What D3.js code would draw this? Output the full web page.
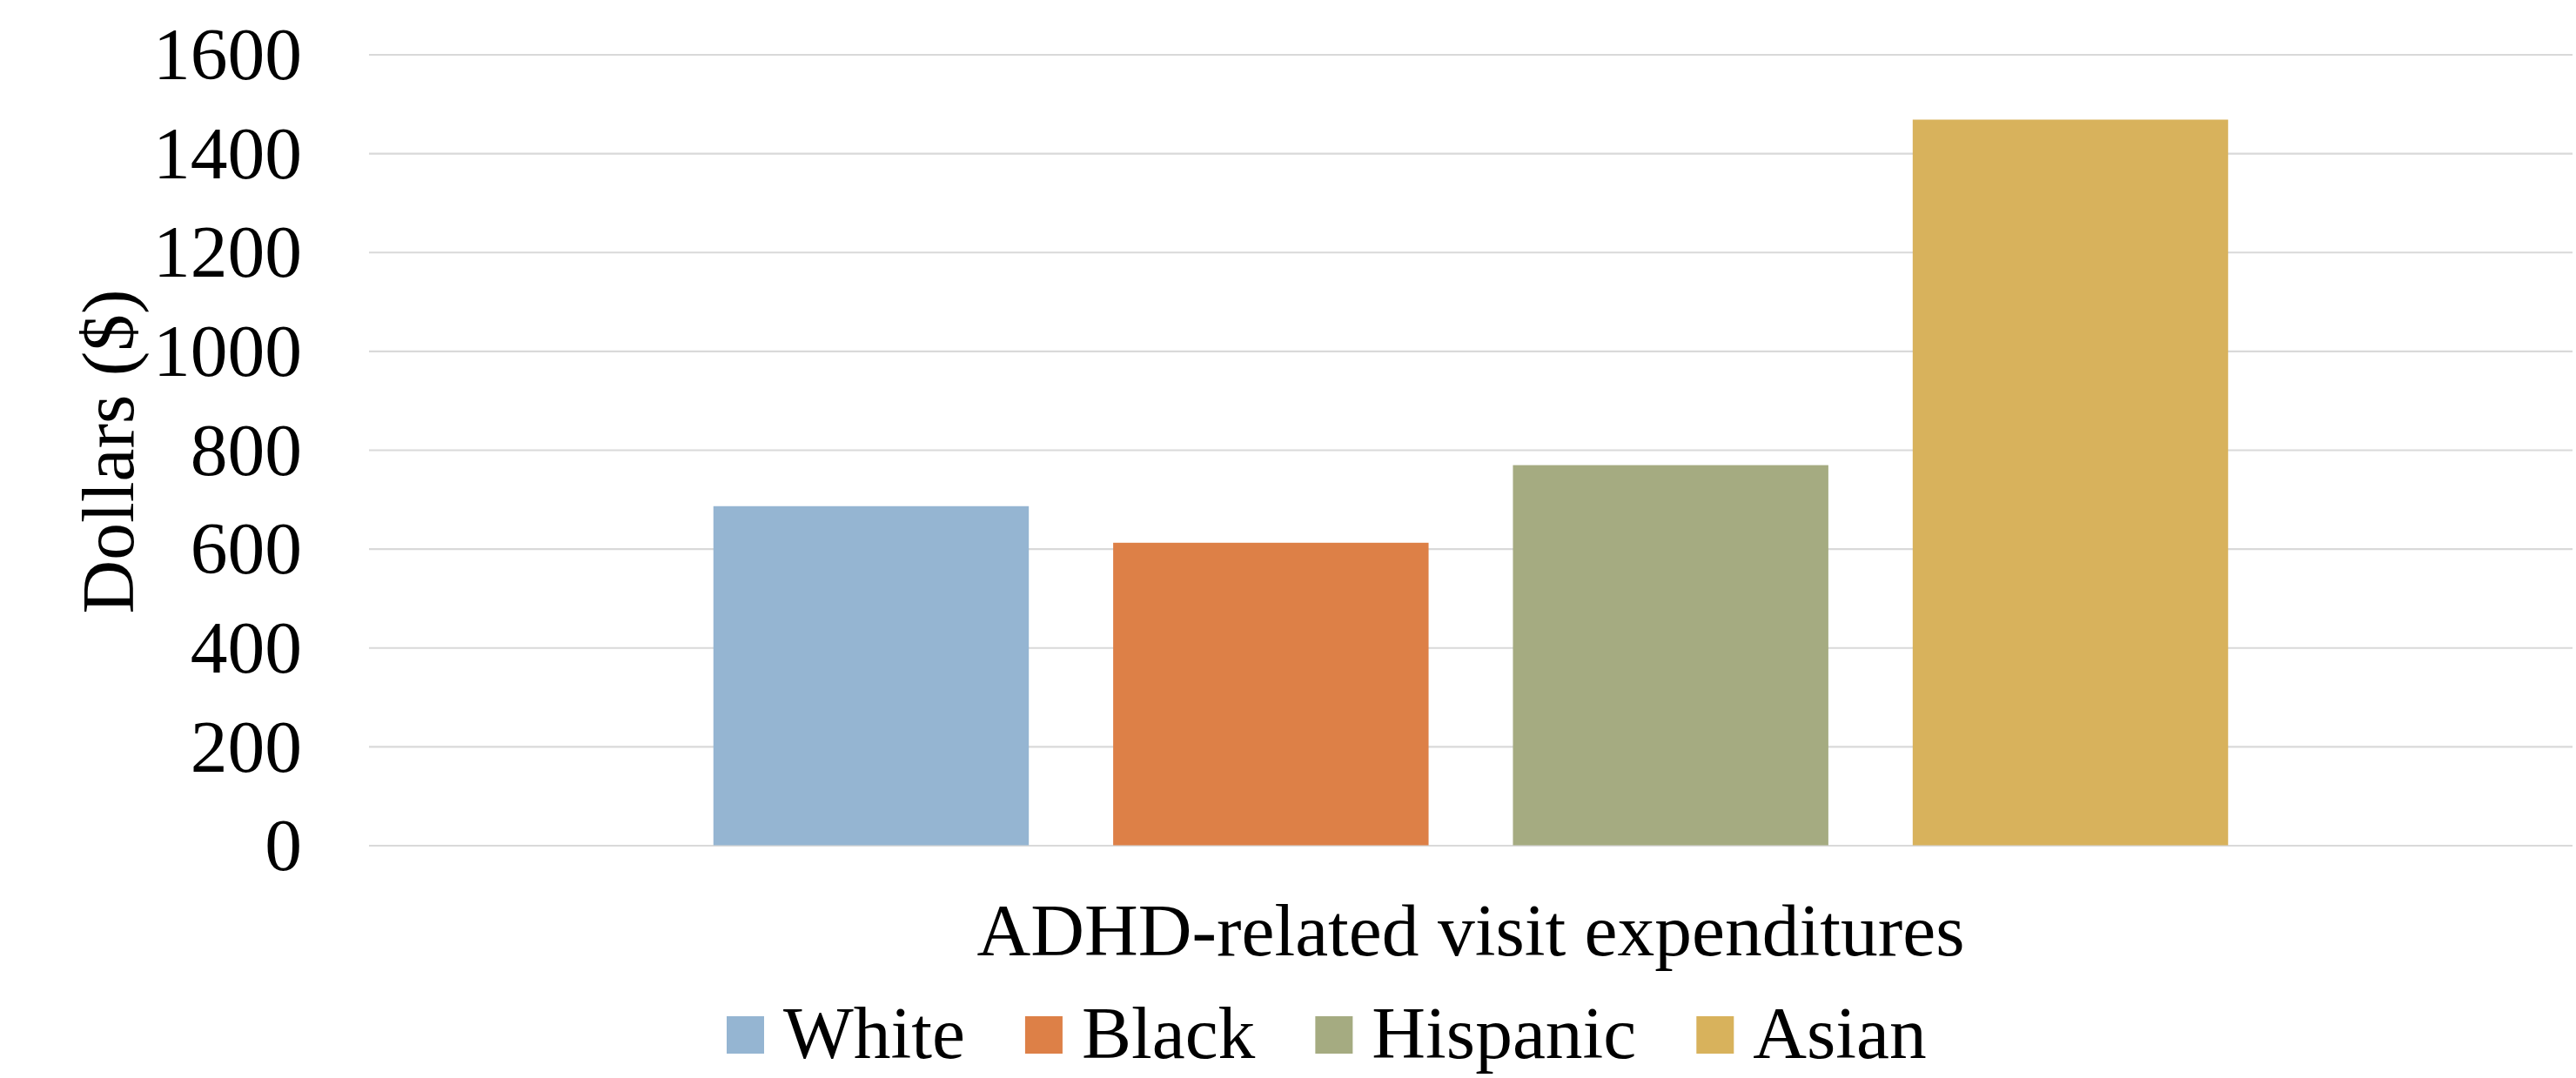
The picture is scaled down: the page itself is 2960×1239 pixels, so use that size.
<!DOCTYPE html>
<html>
<head>
<meta charset="utf-8">
<script src="https://cdn.jsdelivr.net/npm/d3@7/dist/d3.min.js"></script>
<style>
  html, body { margin: 0; padding: 0; background: #ffffff; }
  svg { display: block; }
  text { font-family: "Liberation Serif", "Times New Roman", serif; fill: #000; }
</style>
</head>
<body>
<svg id="chart" width="2960" height="1239"></svg>
<script>
// Chart data
const category = ["ADHD-related visit expenditures"];
const groups = ["White", "Black", "Hispanic", "Asian"];
const values = [686, 612, 769, 1468];
const colors = ["#95B5D2", "#DD8047", "#A5AB81", "#D8B25C"];
const yTicks = [0, 200, 400, 600, 800, 1000, 1200, 1400, 1600];
const yTitle = "Dollars ($)";

const W = 2960, H = 1239;
const plot = { left: 424, right: 2956, top: 62.5, bottom: 971.5 };
const fontSize = 85.5;

const svg = d3.select("#chart");

const y = d3.scaleLinear().domain([0, 1600]).range([plot.bottom, plot.top]);

const x0 = d3.scaleBand()
  .domain(category)
  .range([plot.left, plot.right])
  .paddingInner(0)
  .paddingOuter(0.189);

const x1 = d3.scaleBand()
  .domain(groups)
  .range([0, x0.bandwidth()])
  .paddingInner(0.211)
  .paddingOuter(0.1055);

// Gridlines and value labels
const yAxis = d3.axisLeft(y)
  .tickValues(yTicks)
  .tickSize(-(plot.right - plot.left))
  .tickPadding(77)
  .tickFormat(d3.format("d"));

const gy = svg.append("g")
  .attr("transform", `translate(${plot.left},0)`)
  .call(yAxis);
gy.select(".domain").remove();
gy.selectAll(".tick line")
  .attr("stroke", "#D9D9D9")
  .attr("stroke-width", 2.2);
gy.selectAll(".tick text")
  .attr("font-size", fontSize)
  .attr("font-family", "Liberation Serif, Times New Roman, serif")
  .attr("fill", "#000")
  .attr("dy", "0.33em");

// Bars
const data = groups.map((g, i) => ({ group: g, value: values[i], color: colors[i] }));
svg.append("g")
  .selectAll("rect")
  .data(data)
  .join("rect")
  .attr("x", d => x0(category[0]) + x1(d.group))
  .attr("width", x1.bandwidth())
  .attr("y", d => y(d.value))
  .attr("height", d => y(0) - y(d.value))
  .attr("fill", d => d.color);

// Category axis title
svg.append("text")
  .attr("x", x0(category[0]) + x0.bandwidth() / 2)
  .attr("y", 1098)
  .attr("text-anchor", "middle")
  .attr("font-size", fontSize)
  .text(category[0]);

// Vertical axis title
svg.append("text")
  .attr("transform", `translate(153,519) rotate(-90)`)
  .attr("text-anchor", "middle")
  .attr("font-size", fontSize)
  .text(yTitle);

// Legend
const legend = svg.append("g");
let lx = 835;
data.forEach(d => {
  legend.append("rect")
    .attr("x", lx).attr("y", 1168)
    .attr("width", 43).attr("height", 43)
    .attr("fill", d.color);
  const t = legend.append("text")
    .attr("x", lx + 65).attr("y", 1216)
    .attr("font-size", fontSize)
    .text(d.group);
  lx = lx + 65 + t.node().getComputedTextLength() + 69;
});
</script>
</body>
</html>
